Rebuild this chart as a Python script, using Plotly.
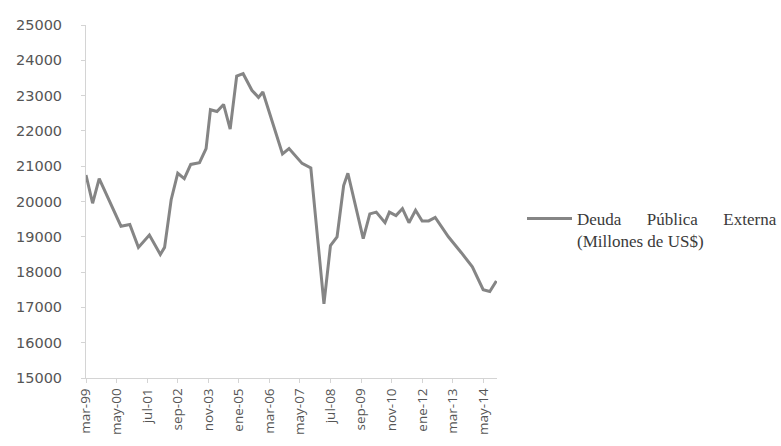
import plotly.graph_objects as go

# Deuda pública externa, millones de US$
fechas = [
    "1999-03", "1999-06", "1999-09", "2000-07", "2000-11", "2001-03", "2001-08",
    "2002-01", "2002-03", "2002-06", "2002-09", "2002-12", "2003-03", "2003-07",
    "2003-10", "2003-12", "2004-03", "2004-06", "2004-09", "2004-12", "2005-03",
    "2005-07", "2005-10", "2005-12", "2006-09", "2006-12", "2007-06", "2007-10",
    "2008-04", "2008-07", "2008-10", "2009-01", "2009-03", "2009-10", "2010-01",
    "2010-04", "2010-08", "2010-10", "2011-01", "2011-04", "2011-07", "2011-10",
    "2012-01", "2012-04", "2012-07", "2013-01", "2013-07", "2013-12", "2014-05",
    "2014-08", "2014-11",
]
deuda = [
    20750, 19950, 20650, 19300, 19350, 18700, 19050,
    18500, 18700, 20050, 20800, 20650, 21050, 21100,
    21500, 22600, 22550, 22750, 22050, 23550, 23620,
    23150, 22950, 23100, 21350, 21500, 21080, 20950,
    17100, 18750, 19000, 20450, 20800, 18950, 19650,
    19700, 19400, 19700, 19600, 19800, 19400, 19750,
    19450, 19450, 19550, 19000, 18550, 18150, 17500,
    17450, 17750,
]

# Etiquetas del eje de categorías
tick_fechas = [
    "1999-03", "2000-05", "2001-07", "2002-09", "2003-11", "2005-01", "2006-03",
    "2007-05", "2008-07", "2009-09", "2010-11", "2012-01", "2013-03", "2014-05",
]
tick_textos = [
    "mar-99", "may-00", "jul-01", "sep-02", "nov-03", "ene-05", "mar-06",
    "may-07", "jul-08", "sep-09", "nov-10", "ene-12", "mar-13", "may-14",
]

gap = "&nbsp;" * 6
nombre = f"Deuda{gap}Pública{gap}Externa<br>(Millones de US$)"

fig = go.Figure()
fig.add_trace(go.Scatter(
    x=fechas, y=deuda, mode="lines", name=nombre,
    line=dict(color="#858585", width=3),
))

fig.update_layout(
    width=781, height=446,
    margin=dict(l=86, r=284, t=25, b=68),
    paper_bgcolor="white", plot_bgcolor="white",
    showlegend=True,
    legend=dict(
        xref="container", yref="container",
        x=522 / 781, y=1 - 201 / 446, xanchor="left", yanchor="top",
        valign="top", bgcolor="rgba(0,0,0,0)", itemwidth=45,
        font=dict(family="Liberation Serif", size=17, color="#3a3a3a"),
    ),
)
fig.update_xaxes(
    type="date", range=["1999-03-01", "2014-11-10"],
    tickmode="array", tickvals=tick_fechas, ticktext=tick_textos,
    tickangle=-90, tickfont=dict(family="Open Sans", size=13.5, color="#555555"),
    showgrid=False, zeroline=False,
    showline=True, linecolor="#d4d4d4", linewidth=1,
    ticks="outside", ticklen=4, tickcolor="#d4d4d4",
)
fig.update_yaxes(
    range=[15000, 25000], dtick=1000, tickformat="d",
    tickfont=dict(family="DejaVu Sans", size=14.5, color="#555555"),
    showgrid=False, zeroline=False,
    showline=True, linecolor="#d4d4d4", linewidth=1,
    ticks="outside", ticklen=4, tickcolor="#d4d4d4",
    ticklabelstandoff=16,
)

fig.write_html("out.html")
